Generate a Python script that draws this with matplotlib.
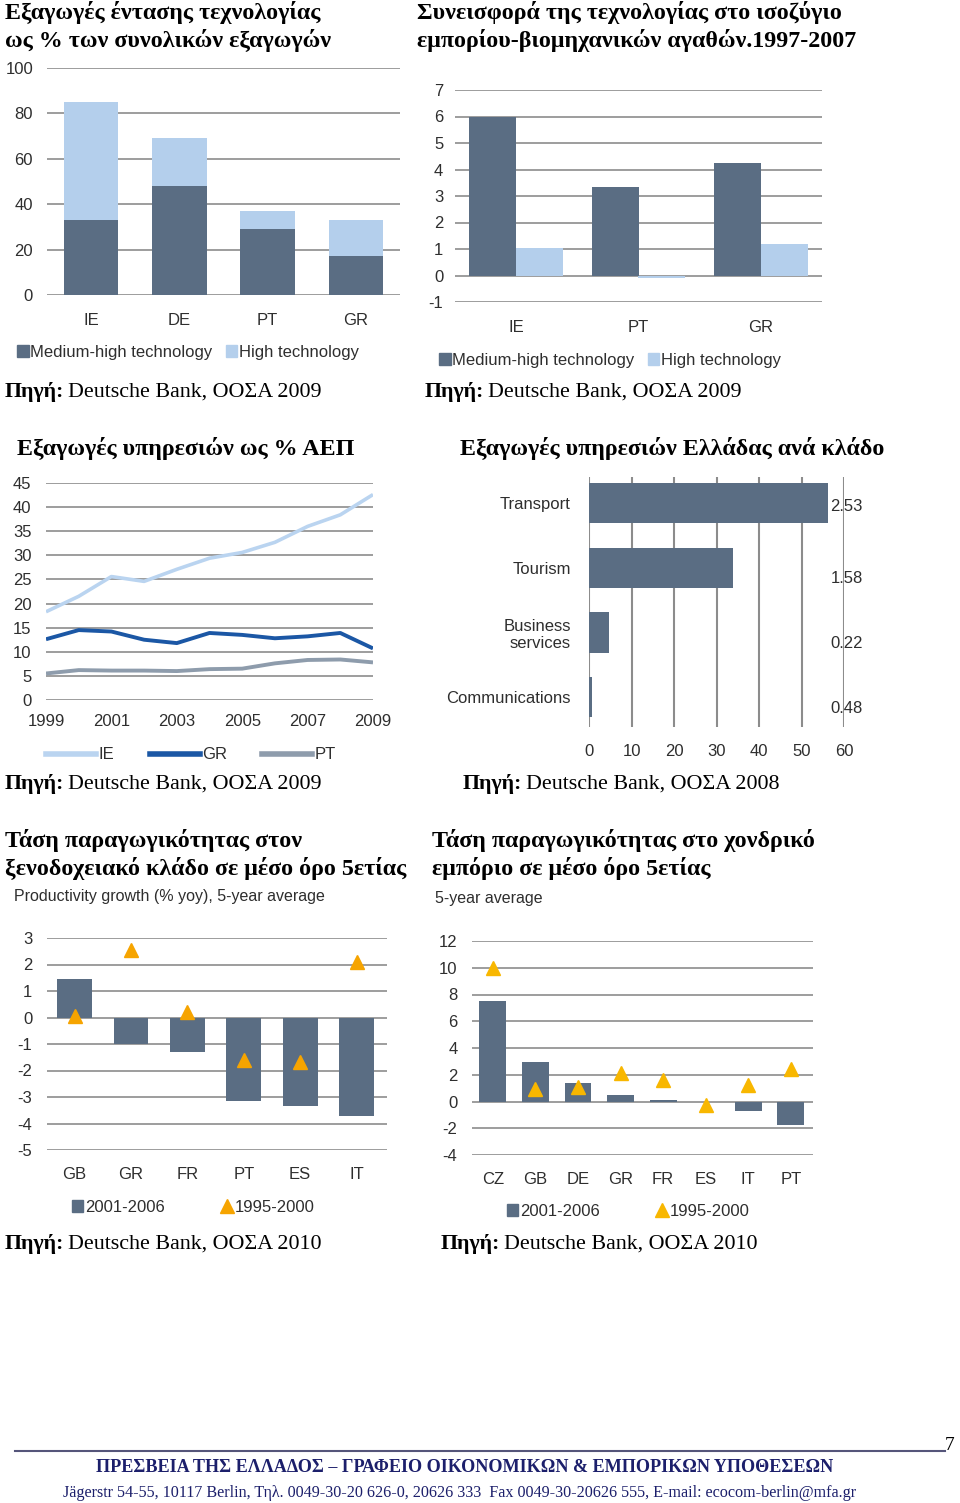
import numpy as np
import matplotlib
matplotlib.use("Agg")
import matplotlib.pyplot as plt
from matplotlib.lines import Line2D
from matplotlib.patches import Patch

# ---- data ----
tech_countries = ["IE", "DE", "PT", "GR"]
tech_medium_high = [33, 48, 29, 17]
tech_high = [52, 21, 8, 16]

balance_countries = ["IE", "PT", "GR"]
balance_medium_high = [6.0, 3.35, 4.25]
balance_high = [1.05, -0.1, 1.2]

years = [1999, 2000, 2001, 2002, 2003, 2004, 2005, 2006, 2007, 2008, 2009]
serv_ie = [18.3, 21.5, 25.6, 24.6, 27.1, 29.4, 30.6, 32.7, 36.0, 38.4, 42.6]
serv_gr = [12.6, 14.5, 14.2, 12.5, 11.8, 13.9, 13.5, 12.8, 13.2, 13.9, 10.7]
serv_pt = [5.5, 6.2, 6.1, 6.1, 6.0, 6.4, 6.5, 7.6, 8.3, 8.4, 7.8]

sectors = ["Transport", "Tourism", "Business\nservices", "Communications"]
sector_share = [56.2, 33.9, 4.7, 0.8]
sector_labels = ["2.53", "1.58", "0.22", "0.48"]

hotel_countries = ["GB", "GR", "FR", "PT", "ES", "IT"]
hotel_2001_2006 = [1.45, -1.0, -1.3, -3.15, -3.35, -3.7]
hotel_1995_2000 = [0.05, 2.55, 0.2, -1.6, -1.67, 2.1]

trade_countries = ["CZ", "GB", "DE", "GR", "FR", "ES", "IT", "PT"]
trade_2001_2006 = [7.55, 2.95, 1.42, 0.52, 0.1, 0.0, -0.72, -1.72]
trade_1995_2000 = [10.0, 0.9, 1.07, 2.14, 1.6, -0.27, 1.22, 2.4]

# ---- style ----
W, H = 960, 1503
DARK = "#5a6d83"
LIGHT = "#b4cfec"
GRID = "#8c8c8c"
TXT = "#2e2e2e"
SANS = "Liberation Sans"
SERIF = "Liberation Serif"
NAVY = "#1c1f6b"
FS = 12

plt.rcParams["axes.unicode_minus"] = False

fig = plt.figure(figsize=(W / 100, H / 100), dpi=100)


def box(x0, y0, x1, y1):
    return [x0 / W, 1 - y1 / H, (x1 - x0) / W, (y1 - y0) / H]


def ftext(x, y, s, **kw):
    return fig.text(x / W, 1 - y / H, s, **kw)


def style_axes(ax, grid_axis="y"):
    for s in ax.spines.values():
        s.set_visible(False)
    ax.tick_params(length=0, labelsize=FS, labelcolor=TXT)
    for lab in ax.get_xticklabels() + ax.get_yticklabels():
        lab.set_family(SANS)
    if grid_axis == "y":
        ax.yaxis.grid(True, color=GRID, lw=1.2)
    else:
        ax.xaxis.grid(True, color=GRID, lw=1.5)
    ax.set_axisbelow(True)


def title(x, y, lines):
    for i, s in enumerate(lines):
        ftext(x, y + i * 28, s, family=SERIF, weight="bold", fontsize=17.3,
              va="center", ha="left", color="black")


renderer = fig.canvas.get_renderer()


def source(x, y, s):
    t = ftext(x, y, "Πηγή:", family=SERIF, weight="bold", fontsize=15.8,
              va="center", ha="left")
    bb = t.get_window_extent(renderer)
    ftext(x + bb.width + 4, y, s, family=SERIF, fontsize=15.8,
          va="center", ha="left")


def legend(ax, handles, labels, cx, cy, **kw):
    leg = ax.legend(handles, labels, loc="center", ncol=len(handles),
                    bbox_to_anchor=(cx / W, 1 - cy / H),
                    bbox_transform=fig.transFigure, frameon=False,
                    prop={"family": SANS, "size": FS}, **kw)
    for t in leg.get_texts():
        t.set_color(TXT)
    return leg


# ---- chart 1: technology intensity ----
title(5, 12, ["Εξαγωγές έντασης τεχνολογίας", "ως % των συνολικών εξαγωγών"])
ax1 = fig.add_axes(box(47, 68, 400, 295))
x = np.arange(len(tech_countries))
ax1.bar(x, tech_medium_high, 0.62, color=DARK)
ax1.bar(x, tech_high, 0.62, bottom=tech_medium_high, color=LIGHT)
ax1.set_xlim(-0.5, 3.5)
ax1.set_ylim(0, 100)
ax1.set_yticks(range(0, 101, 20))
ax1.set_xticks(x, tech_countries)
style_axes(ax1)
ax1.tick_params(axis="x", pad=13)
ax1.tick_params(axis="y", pad=10)
legend(ax1, [Patch(color=DARK), Patch(color=LIGHT)],
       ["Medium-high technology", "High technology"], 188, 352,
       handlelength=0.7, handleheight=0.7, handletextpad=0.1, columnspacing=0.8)
source(5, 392, "Deutsche Bank, ΟΟΣΑ 2009")

# ---- chart 2: technology contribution to trade balance ----
title(417, 12, ["Συνεισφορά της τεχνολογίας στο ισοζύγιο",
                "εμπορίου-βιομηχανικών αγαθών.1997-2007"])
ax2 = fig.add_axes(box(455, 90, 822, 302))
x = np.arange(len(balance_countries))
ax2.bar(x - 0.19, balance_medium_high, 0.385, color=DARK)
ax2.bar(x + 0.19, balance_high, 0.385, color=LIGHT)
ax2.set_xlim(-0.5, 2.5)
ax2.set_ylim(-1, 7)
ax2.set_yticks(range(-1, 8))
ax2.set_xticks(x, balance_countries)
style_axes(ax2)
ax2.tick_params(axis="x", pad=13)
ax2.tick_params(axis="y", pad=8.5)
legend(ax2, [Patch(color=DARK), Patch(color=LIGHT)],
       ["Medium-high technology", "High technology"], 610, 360,
       handlelength=0.7, handleheight=0.7, handletextpad=0.1, columnspacing=0.8)
source(425, 392, "Deutsche Bank, ΟΟΣΑ 2009")

# ---- chart 3: services exports % GDP ----
title(17, 448, ["Εξαγωγές υπηρεσιών ως % ΑΕΠ"])
ax3 = fig.add_axes(box(46, 483, 373, 700))
ax3.plot(years, serv_ie, color="#bad4f0", lw=2.6, solid_capstyle="butt")
ax3.plot(years, serv_gr, color="#1b57a5", lw=2.8, solid_capstyle="butt")
ax3.plot(years, serv_pt, color="#8e9cac", lw=2.8, solid_capstyle="butt")
ax3.set_xlim(1999, 2009)
ax3.set_ylim(0, 45)
ax3.set_yticks(range(0, 46, 5))
ax3.set_xticks(years[::2])
style_axes(ax3)
ax3.tick_params(axis="x", pad=10)
ax3.tick_params(axis="y", pad=10.5)
legend(ax3, [Line2D([], [], color="#bad4f0", lw=4),
             Line2D([], [], color="#1b57a5", lw=4),
             Line2D([], [], color="#8e9cac", lw=4)],
       ["IE", "GR", "PT"], 191, 755,
       handlelength=3.0, handletextpad=0.15, columnspacing=2.1)
source(5, 784, "Deutsche Bank, ΟΟΣΑ 2009")

# ---- chart 4: Greek services exports by sector ----
title(460, 448, ["Εξαγωγές υπηρεσιών Ελλάδας ανά κλάδο"])
ax4 = fig.add_axes(box(589, 477, 844, 727))
y = np.arange(len(sectors))
ax4.barh(y, sector_share, 0.62, color=DARK)
ax4.set_xlim(0, 60)
ax4.set_ylim(3.46, -0.4)
ax4.set_xticks(range(0, 61, 10))
ax4.set_yticks(y, sectors)
style_axes(ax4, grid_axis="x")
ax4.tick_params(axis="x", pad=12)
ax4.tick_params(axis="y", pad=13)
for lab in ax4.get_yticklabels():
    lab.set_horizontalalignment("right")
for yi, lab in zip(y, sector_labels):
    off = 0.05 if yi == 0 else 0.17
    ax4.text(60.6, yi + off, lab, ha="center", va="center", fontsize=FS,
             family=SANS, color=TXT, clip_on=False)
source(463, 784, "Deutsche Bank, ΟΟΣΑ 2008")

# ---- chart 5: hotel productivity ----
title(5, 840, ["Τάση παραγωγικότητας στον",
               "ξενοδοχειακό κλάδο σε μέσο όρο 5ετίας"])
ftext(14, 897, "Productivity growth (% yoy), 5-year average", family=SANS,
      fontsize=11.5, color=TXT, va="center")
ax5 = fig.add_axes(box(47, 938, 387, 1150))
x = np.arange(len(hotel_countries))
ax5.bar(x, hotel_2001_2006, 0.62, color=DARK)
ax5.plot(x, hotel_1995_2000, "^", color="#f6a400", ms=10, ls="none")
ax5.set_xlim(-0.49, 5.54)
ax5.set_ylim(-5, 3)
ax5.set_yticks(range(-5, 4))
ax5.set_xticks(x, hotel_countries)
style_axes(ax5)
ax5.tick_params(axis="x", pad=12)
ax5.tick_params(axis="y", pad=10.5)
legend(ax5, [Patch(color=DARK),
             Line2D([], [], marker="^", color="#f6a400", ms=10, ls="none")],
       ["2001-2006", "1995-2000"], 193, 1207,
       handlelength=0.7, handleheight=0.7, handletextpad=0.1, columnspacing=3.4)
source(5, 1244, "Deutsche Bank, ΟΟΣΑ 2010")

# ---- chart 6: wholesale productivity ----
title(432, 840, ["Τάση παραγωγικότητας στο χονδρικό",
                 "εμπόριο σε μέσο όρο 5ετίας"])
ftext(435, 898, "5-year average", family=SANS, fontsize=11.5, color=TXT,
      va="center")
ax6 = fig.add_axes(box(472, 941, 813, 1155))
x = np.arange(len(trade_countries))
ax6.bar(x, trade_2001_2006, 0.63, color=DARK)
ax6.plot(x, trade_1995_2000, "^", color="#f8b700", ms=10, ls="none")
ax6.set_xlim(-0.49, 7.52)
ax6.set_ylim(-4, 12)
ax6.set_yticks(range(-4, 13, 2))
ax6.set_xticks(x, trade_countries)
style_axes(ax6)
ax6.tick_params(axis="x", pad=12)
ax6.tick_params(axis="y", pad=10.5)
legend(ax6, [Patch(color=DARK),
             Line2D([], [], marker="^", color="#f8b700", ms=10, ls="none")],
       ["2001-2006", "1995-2000"], 628, 1211,
       handlelength=0.7, handleheight=0.7, handletextpad=0.1, columnspacing=3.4)
source(441, 1244, "Deutsche Bank, ΟΟΣΑ 2010")

# ---- footer ----
fig.add_artist(Line2D([15 / W, 945 / W], [1 - 1451 / H, 1 - 1451 / H],
                      color="#55557a", lw=1.5))
ftext(950, 1445, "7", family=SERIF, fontsize=14, va="center", ha="center")
ftext(465, 1468, "ΠΡΕΣΒΕΙΑ ΤΗΣ ΕΛΛΑΔΟΣ – ΓΡΑΦΕΙΟ ΟΙΚΟΝΟΜΙΚΩΝ & ΕΜΠΟΡΙΚΩΝ ΥΠΟΘΕΣΕΩΝ",
      family=SERIF, weight="bold", fontsize=13.1, color=NAVY,
      va="center", ha="center")
ftext(460, 1493, "Jägerstr 54-55, 10117 Berlin, Τηλ. 0049-30-20 626-0, 20626 333  "
      "Fax 0049-30-20626 555, E-mail: ecocom-berlin@mfa.gr",
      family=SERIF, fontsize=11.6, color=NAVY, va="center", ha="center")

fig.savefig("out.png", dpi=100)
